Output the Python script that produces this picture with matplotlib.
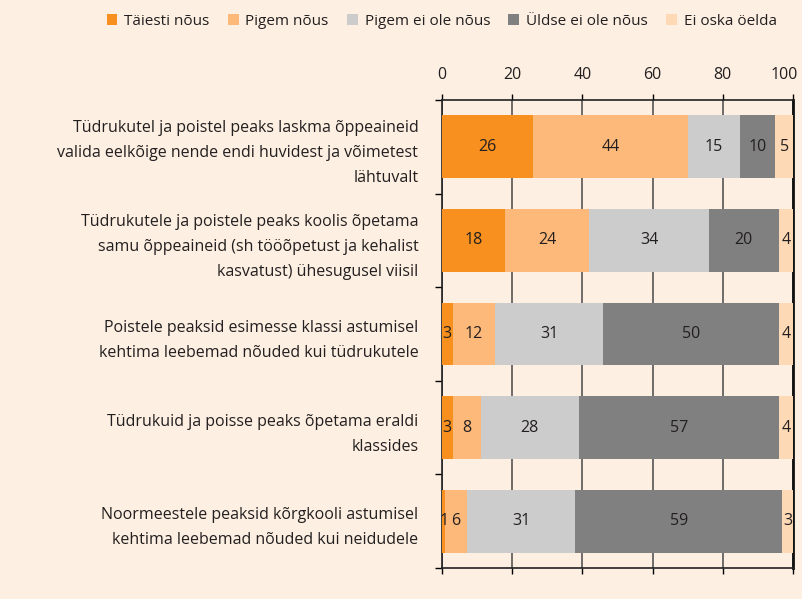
import matplotlib
matplotlib.use("Agg")
import matplotlib.pyplot as plt
import matplotlib.transforms as mtransforms
import numpy as np

plt.rcParams['font.family'] = ['Open Sans', 'DejaVu Sans']

categories = [
    "Tüdrukutel ja poistel peaks laskma õppeaineid\nvalida eelkõige nende endi huvidest ja võimetest\nlähtuvalt",
    "Tüdrukutele ja poistele peaks koolis õpetama\nsamu õppeaineid (sh tööõpetust ja kehalist\nkasvatust) ühesugusel viisil",
    "Poistele peaksid esimesse klassi astumisel\nkehtima leebemad nõuded kui tüdrukutele",
    "Tüdrukuid ja poisse peaks õpetama eraldi\nklassides",
    "Noormeestele peaksid kõrgkooli astumisel\nkehtima leebemad nõuded kui neidudele",
]
series_names = ["Täiesti nõus", "Pigem nõus", "Pigem ei ole nõus", "Üldse ei ole nõus", "Ei oska öelda"]
taiesti = [26, 18, 3, 3, 1]
pigem = [44, 24, 12, 8, 6]
pigem_ei = [15, 34, 31, 28, 31]
uldse_ei = [10, 20, 50, 57, 59]
ei_oska = [5, 4, 4, 4, 3]
colors = ["#f7901e", "#fdb97a", "#cccccc", "#808080", "#fed9b5"]
xticks = [0, 20, 40, 60, 80, 100]

bg = "#fdf0e2"
tc = "#231f20"
fig = plt.figure(figsize=(8.03, 5.99), dpi=100, facecolor=bg)
ax = fig.add_axes([0.5504, 0.0518, 0.4371, 0.7813], facecolor=bg)

y = np.arange(len(categories))
left = np.zeros(len(categories))
handles = []
for name, vals, c in zip(series_names, [taiesti, pigem, pigem_ei, uldse_ei, ei_oska], colors):
    vals = np.array(vals, dtype=float)
    b = ax.barh(y, vals, left=left, height=0.67, color=c, label=name, zorder=3)
    handles.append(b)
    for yi, v, l in zip(y, vals, left):
        ax.text(l + v / 2, yi, f"{int(v)}", ha='center', va='center', fontsize=11.5,
                color=tc, zorder=4)
    left += vals

ax.set_xlim(0, 100)
ax.set_ylim(len(categories) - 0.5, -0.5)
ax.xaxis.tick_top()
ax.set_xticks(xticks)
ax.tick_params(axis='x', which='both', top=True, bottom=True, direction='out', length=4,
               width=1, labelsize=11.5, labelcolor=tc, pad=8)
ax.grid(axis='x', color="#555555", linewidth=1.2, zorder=1)

ax.set_yticks(y)
ax.set_yticklabels(categories, fontsize=11.5, color=tc, linespacing=1.75)
ax.set_yticks(np.arange(len(categories) + 1) - 0.5, minor=True)
ax.tick_params(axis='y', which='major', length=0, pad=17)
ax.tick_params(axis='y', which='minor', length=5, width=1, direction='out')
for lab in ax.get_yticklabels():
    lab.set_horizontalalignment('right')

# nudge the "100" label left so it stays inside the figure
last = ax.get_xticklabels()[-1]
last.set_transform(last.get_transform() + mtransforms.ScaledTranslation(-6 / 72, 0, fig.dpi_scale_trans))

for s in ['left', 'top', 'bottom']:
    ax.spines[s].set_color("#222222")
    ax.spines[s].set_linewidth(1.2)
ax.spines['right'].set_color("#111111")
ax.spines['right'].set_linewidth(2)

fig.legend(handles=handles, labels=series_names, loc='upper center', bbox_to_anchor=(0.55, 1.0),
           ncol=5, frameon=False, fontsize=11, handlelength=0.7, handleheight=0.7,
           handletextpad=0.45, columnspacing=1.2, labelcolor=tc)

fig.savefig("out.png", dpi=100, facecolor=bg)
